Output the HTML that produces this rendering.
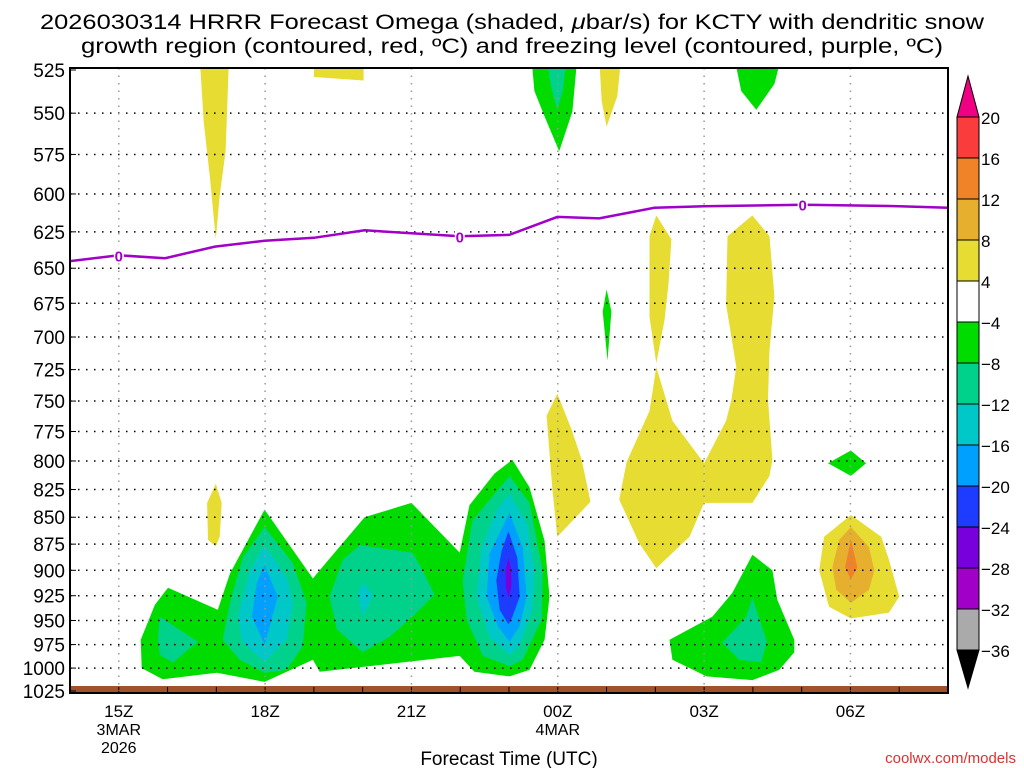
<!DOCTYPE html>
<html><head><meta charset="utf-8"><style>
html,body{margin:0;padding:0;background:#fff;}
svg{display:block;font-family:"Liberation Sans",sans-serif;}
</style></head><body>
<svg id="chart" width="1024" height="768" viewBox="0 0 1024 768">
<rect x="0" y="0" width="1024" height="768" fill="#fff"/>
<text x="512" y="29" text-anchor="middle" font-size="21" textLength="944" lengthAdjust="spacingAndGlyphs">2026030314 HRRR Forecast Omega (shaded, <tspan font-style="italic">μ</tspan>bar/s) for KCTY with dendritic snow</text>
<text x="512" y="53" text-anchor="middle" font-size="21" textLength="862" lengthAdjust="spacingAndGlyphs">growth region (contoured, red, ºC) and freezing level (contoured, purple, ºC)</text>
<g id="plot"></g>
<g id="cbar"></g>
<text x="509" y="765" text-anchor="middle" font-size="19">Forecast Time (UTC)</text>
<text x="1016" y="763" text-anchor="end" font-size="15" fill="#e03030">coolwx.com/models</text>
</svg>
<script>
// ---- data ----
const pressureTicks = [525,550,575,600,625,650,675,700,725,750,775,800,825,850,875,900,925,950,975,1000,1025];
const timeTicks = [1,4,7,10,13,16]; // hours after 14Z
const timeLabels = ["15Z","18Z","21Z","00Z","03Z","06Z"];
const freezeT = [0,1,1.95,2.97,3.99,5.0,6.04,7.0,7.99,9.01,9.99,10.85,11.98,13.0,15.05,17.0,18];
const freezeP = [645,641,643,635,631,629,624,626,628,627,615,616,609,608,607,608,609];
const freezeLabelT = [1,7.99,15.02];
const cbLevels = ["20","16","12","8","4","\u22124","\u22128","\u221212","\u221216","\u221220","\u221224","\u221228","\u221232","\u221236"];
const cbColors = ["#fa3c3c","#f08228","#e6af2d","#e6dc32","#ffffff","#00dc00","#00d28c","#00c8c8","#00a0ff","#1e3cff","#7800dc","#a000c8","#aaaaaa"];
const levelColor = {y:"#e6dc32",gold:"#e6af2d",o:"#f08228",g:"#00dc00",tl:"#00d28c",c:"#00c8c8",lb:"#00a0ff",b:"#1e3cff",pu:"#7800dc"};
const shapes = [
 {n:"green-main",l:"g",t:[1.47,1.45,1.74,2.01,3.03,3.28,3.99,4.98,5.12,6.04,7.0,7.99,8.19,8.7,9.07,9.42,9.73,9.83,9.73,9.42,9.01,8.29,7.99,5.12,4.98,3.99,3.01,1.9],
  p:[1000,970,934,917,939,903,843,908,900,850,837,883,839,811,799,823,872,926,970,1002,1009,1004,987,1004,991,1015,1005,1012]},
 {n:"teal-left",l:"tl",t:[1.84,2.62,2.11,1.84,1.8],p:[946,972,994,986,970]},
 {n:"teal-18z",l:"tl",t:[3.99,4.57,4.85,4.77,4.44,3.99,3.48,3.13,3.28,3.54],p:[859,893,932,977,1002,1005,991,970,932,888]},
 {n:"cyan-18z",l:"c",t:[3.99,4.44,4.57,4.44,3.99,3.54,3.44,3.69],p:[876,907,932,970,993,973,946,900]},
 {n:"lightblue-18z",l:"lb",t:[3.99,4.26,3.99,3.73,3.83],p:[895,926,975,946,912]},
 {n:"teal-20z",l:"tl",t:[5.32,5.59,5.94,7.02,7.23,7.47,7.02,6.55,6.0,5.47],p:[926,890,876,883,900,924,946,967,983,959]},
 {n:"cyan-20z",l:"c",t:[6.0,6.21,6.0,5.9],p:[912,924,946,924]},
 {n:"teal-23z",l:"tl",t:[9.01,9.42,9.69,9.67,9.28,9.01,8.46,8.13,8.05,8.25],p:[813,837,900,949,991,998,987,949,910,853]},
 {n:"cyan-23z",l:"c",t:[9.01,9.36,9.52,9.48,9.22,9.01,8.6,8.33,8.44,8.74],p:[829,855,900,939,977,986,967,926,878,844]},
 {n:"lightblue-23z",l:"lb",t:[9.01,9.28,9.36,9.22,9.01,8.77,8.54,8.6],p:[846,878,926,956,972,956,926,884]},
 {n:"blue-23z",l:"b",t:[8.99,9.17,9.22,9.07,8.99,8.81,8.74,8.85],p:[863,888,926,946,954,939,910,881]},
 {n:"purple-23z",l:"pu",t:[8.99,9.05,9.05,8.99,8.93,8.93],p:[888,900,916,927,916,900]},
 {n:"yellow-17z-low",l:"y",t:[2.99,3.11,3.07,2.99,2.83,2.81],p:[820,837,868,877,871,837]},
 {n:"yellow-02z-upper",l:"y",t:[12.02,12.33,12.27,12.19,12.02,11.88,11.88],p:[614,630,661,687,720,685,628]},
 {n:"yellow-02z-lower",l:"y",t:[12.02,12.35,13.0,13.0,12.7,12.02,11.67,11.26,11.41,11.88],p:[723,766,802,837,868,898,874,834,801,758]},
 {n:"yellow-04z",l:"y",t:[13.99,14.34,14.44,14.34,14.31,14.4,14.34,13.99,13.0,13.0,13.45,13.56,13.66,13.45,13.48],p:[614,628,670,710,749,799,813,837,837,802,766,749,723,676,628]},
 {n:"yellow-00z",l:"y",t:[9.99,10.28,10.49,10.67,9.99,9.89,9.77],p:[744,773,799,836,868,825,762]},
 {n:"green-01z-thin",l:"g",t:[11.0,11.1,11.02,10.92],p:[665,681,718,681]},
 {n:"green-06z-small",l:"g",t:[16.01,16.32,16.01,15.54],p:[791,802,813,802]},
 {n:"yellow-06z",l:"y",t:[16.01,16.63,16.79,17.0,16.79,16.01,15.56,15.36,15.46],p:[848,868,890,926,942,948,936,900,868]},
 {n:"gold-06z",l:"gold",t:[16.01,16.38,16.49,16.38,16.01,15.71,15.63,15.77],p:[859,878,900,919,932,919,897,871]},
 {n:"orange-06z",l:"o",t:[16.01,16.14,16.01,15.89],p:[871,897,909,897]},
 {n:"green-04z-low",l:"g",t:[13.99,14.4,14.5,14.85,14.85,14.54,13.99,13.05,12.35,12.29,13.17,13.58],p:[885,900,929,970,983,1002,1013,1009,991,970,946,922]},
 {n:"teal-04z-low",l:"tl",t:[13.99,14.29,14.17,13.72,13.37,13.86],p:[927,972,994,991,973,946]},
 {n:"yellow-17z-top",l:"y",t:[2.66,3.26,3.19,3.07,2.99,2.87,2.74],p:[518,518,573,601,630,590,555]},
 {n:"yellow-19z-top",l:"y",t:[5.0,6.02,6.02,5.0],p:[518,518,531,529]},
 {n:"green-00z-top",l:"g",t:[9.46,10.4,10.3,10.03,9.73,9.52],p:[518,518,549,573,552,537]},
 {n:"teal-00z-top",l:"tl",t:[9.77,10.18,10.1,9.99,9.85],p:[518,518,537,548,533]},
 {n:"yellow-01z-top",l:"y",t:[10.85,11.3,11.22,11.0,10.9],p:[518,518,540,558,543]},
 {n:"green-04z-top",l:"g",t:[13.62,14.58,14.44,14.07,13.76],p:[518,518,533,548,537]}
];
// ---- axes ----
const X0=70, X1=948, Y0=70, Y1=691, T0=0, T1=18, P0=525, P1=1025;
const xs = t => X0 + (t-T0)/(T1-T0)*(X1-X0);
const ys = p => Y0 + Math.log(p/P0)/Math.log(P1/P0)*(Y1-Y0);
const NS="http://www.w3.org/2000/svg";
function mk(tag, attrs, parent){const e=document.createElementNS(NS,tag);for(const k in attrs)e.setAttribute(k,attrs[k]);parent.appendChild(e);return e;}
const plot=document.getElementById('plot');
const cbar=document.getElementById('cbar');
mk('clipPath',{id:'clip'},plot);
mk('rect',{x:X0,y:68,width:X1-X0,height:Y1-68+3},document.getElementById('clip'));
const shaded=mk('g',{'clip-path':'url(#clip)'},plot);


shapes.forEach(s=>{
  const pts=s.t.map((t,i)=>xs(t).toFixed(1)+','+ys(s.p[i]).toFixed(1)).join(' ');
  const e=mk('polygon',{points:pts,fill:levelColor[s.l]},shaded);
  
  
});
// ground
const gr=mk('rect',{x:X0,y:ys(1025)-5,width:X1-X0,height:6,fill:'#a0522d'},plot);


// grids
pressureTicks.forEach(p=>{
  const y=ys(p);
  if(p>525&&p<1025){const l=mk('line',{x1:X0,x2:X1,y1:y,y2:y,stroke:'#000','stroke-width':1.5,'stroke-dasharray':'1.5 6.5'},plot);
  
  }
  const tk=mk('line',{x1:X0,x2:X0+6,y1:y,y2:y,stroke:'#000','stroke-width':1},plot);
  
  
  const tx=mk('text',{x:X0-5,y:y+7,'text-anchor':'end','font-size':19},plot);
  tx.textContent=p;
  
  
});
for(let h=1;h<18;h++){
  const x=xs(h);
  const tk=mk('line',{x1:x,x2:x,y1:Y1-4,y2:Y1+2,stroke:'#000','stroke-width':1},plot);
  
  
}
timeTicks.forEach((t,i)=>{
  const x=xs(t);
  const l=mk('line',{x1:x,x2:x,y1:68,y2:Y1,stroke:'#999','stroke-width':1.5,'stroke-dasharray':'1.5 6'},plot);
  
  
  const tx=mk('text',{x:x,y:717,'text-anchor':'middle','font-size':17},plot);
  tx.textContent=timeLabels[i];
  
  
});
[["3MAR",xs(1),735],["2026",xs(1),753],["4MAR",xs(10),735]].forEach(d=>{
  const tx=mk('text',{x:d[1],y:d[2],'text-anchor':'middle','font-size':16},plot);
  tx.textContent=d[0];
  
  
});
// freezing line
const fz=mk('polyline',{points:freezeT.map((t,i)=>xs(t).toFixed(1)+','+ys(freezeP[i]).toFixed(1)).join(' '),fill:'none',stroke:'#a000c8','stroke-width':2.5,'clip-path':'url(#clip)'},plot);


function interpP(t){for(let i=0;i<freezeT.length-1;i++){if(t>=freezeT[i]&&t<=freezeT[i+1]){const f=(t-freezeT[i])/(freezeT[i+1]-freezeT[i]);return freezeP[i]+f*(freezeP[i+1]-freezeP[i]);}}return freezeP[0];}
freezeLabelT.forEach(t=>{
  const x=xs(t),y=ys(interpP(t));
  mk('rect',{x:x-5,y:y-8,width:10,height:16,fill:'#fff'},plot);
  const tx=mk('text',{x:x,y:y+6,'text-anchor':'middle','font-size':15,'font-weight':'bold',fill:'#a000c8'},plot);
  tx.textContent='0';
  
  
});
const fr=mk('rect',{x:X0,y:68,width:X1-X0,height:Y1-68+2,fill:'none',stroke:'#000','stroke-width':2},plot);


// colorbar
const CX=957, CW=22, CT=117, CH=41;
cbColors.forEach((c,i)=>{
  const r=mk('rect',{x:CX,y:CT+i*CH,width:CW,height:CH,fill:c,stroke:'#000','stroke-width':1},cbar);
  
  
});
cbLevels.forEach((lv,i)=>{
  const tx=mk('text',{x:CX+CW+2,y:CT+i*CH+7,'font-size':17},cbar);
  tx.textContent=lv;
  
  
});
const tt=mk('polygon',{points:`${CX},${CT} ${CX+CW},${CT} ${CX+CW/2},${CT-41}`,fill:'#f00082',stroke:'#000','stroke-width':1},cbar);


const bt=mk('polygon',{points:`${CX},${CT+13*CH} ${CX+CW},${CT+13*CH} ${CX+CW/2},${CT+13*CH+38}`,fill:'#000',stroke:'#000','stroke-width':1},cbar);


</script>
</body></html>
